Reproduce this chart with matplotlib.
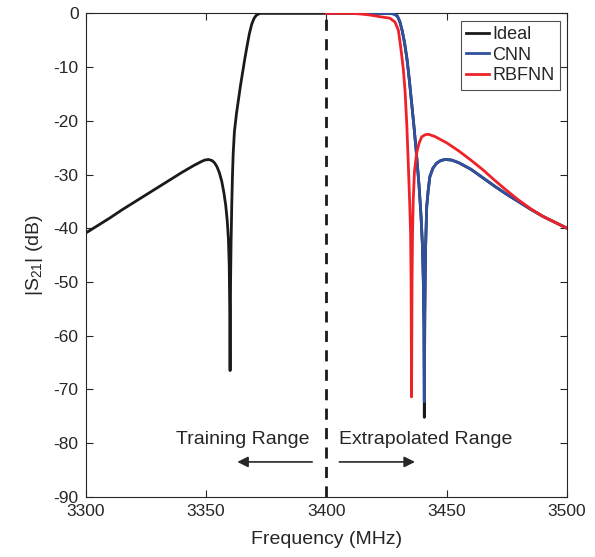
import matplotlib
matplotlib.use("Agg")
import matplotlib.pyplot as plt

# values (frequency in MHz, |S21| in dB)
ideal_f = [3300, 3305, 3310, 3315, 3320, 3325, 3330, 3335, 3340, 3345, 3348,
           3349.5, 3351, 3352.5, 3353.5, 3354.5, 3355.5, 3356.5, 3357.4,
           3358.2, 3358.8, 3359.3, 3359.65, 3359.85, 3360.0, 3360.2, 3360.4,
           3360.7, 3361.0, 3361.3, 3361.8, 3362.7, 3363.5, 3364.3, 3365.2,
           3366.1, 3367.0, 3368.0, 3369.0, 3370.0, 3371.0, 3372.4, 3400,
           3420, 3426, 3428, 3429.5, 3430.5, 3431.5, 3432.5, 3433.5, 3434.5,
           3435.5, 3436.5, 3437.5, 3438.5, 3439.3, 3439.9, 3440.3, 3440.55,
           3440.7, 3440.9, 3441.2, 3441.7, 3442.3, 3443.0, 3444.3, 3445.8,
           3447.5, 3449.3, 3452, 3455, 3460, 3465, 3470, 3475, 3480, 3485,
           3490, 3495, 3500]
ideal_db = [-40.9, -39.5, -38.1, -36.6, -35.2, -33.8, -32.4, -31.0, -29.6,
            -28.3, -27.6, -27.3, -27.2, -27.4, -27.8, -28.5, -29.6, -31.2,
            -33.3, -35.8, -38.5, -42.0, -47.0, -55.0, -66.5, -50.0, -43.0,
            -35.5, -30.0, -26.0, -22.0, -18.5, -16.0, -13.5, -11.0, -8.5,
            -6.2, -3.8, -2.0, -0.9, -0.3, 0.0, 0.0,
            0.0, 0.0, -0.1, -0.5, -1.5, -3.2, -5.5, -8.5, -12.5, -17.0,
            -21.5, -26.5, -32.0, -37.5, -43.0, -50.0, -58.0, -75.2, -56.0,
            -44.0, -36.0, -33.0, -30.4, -28.8, -27.9, -27.4, -27.2, -27.3,
            -27.8, -29.0, -30.6, -32.2, -33.7, -35.1, -36.5, -37.8, -38.9,
            -40.0]

cnn_f = [3400, 3420, 3426, 3428, 3429.5, 3430.5, 3431.5, 3432.5, 3433.5,
         3434.5, 3435.5, 3436.5, 3437.5, 3438.5, 3439.3, 3439.9, 3440.3,
         3440.55, 3440.7, 3440.9, 3441.2, 3441.7, 3442.3, 3443.0, 3444.3,
         3445.8, 3447.5, 3449.3, 3452, 3455, 3460, 3465, 3470, 3475, 3480,
         3485, 3490, 3495, 3500]
cnn_db = [0.0, 0.0, 0.0, -0.1, -0.5, -1.5, -3.2, -5.5, -8.5, -12.5, -17.0,
          -21.5, -26.5, -32.0, -37.5, -43.0, -50.0, -58.0, -72.3, -56.0,
          -44.0, -36.0, -33.0, -30.4, -28.8, -27.9, -27.4, -27.2, -27.3,
          -27.8, -29.0, -30.6, -32.2, -33.7, -35.1, -36.5, -37.8, -38.9,
          -40.0]

rbf_f = [3400, 3410, 3414, 3418, 3422, 3426.4, 3428.5, 3429.9, 3430.6,
         3431.3, 3432, 3432.7, 3433.4, 3434, 3434.6, 3435, 3435.2, 3435.4,
         3435.6, 3435.8, 3436.1, 3436.6, 3437.5, 3438.5, 3439.6, 3441,
         3442.3, 3445, 3450, 3455, 3460, 3465, 3470, 3475, 3480, 3485, 3490,
         3495, 3500]
rbf_db = [0.0, 0.0, -0.1, -0.3, -0.6, -0.9, -1.6, -3.1, -5.3, -7.8, -10.5,
          -14.5, -20.5, -27.5, -35.0, -41.0, -50.0, -71.4, -50.0, -41.0,
          -34.8, -29.5, -26.0, -24.2, -23.0, -22.6, -22.5, -22.9, -24.1,
          -25.6, -27.3, -29.1, -31.1, -33.0, -34.8, -36.4, -37.8, -38.9,
          -40.0]

series_names = ["Ideal", "CNN", "RBFNN"]
x_ticks = [3300, 3350, 3400, 3450, 3500]
y_ticks = list(range(-90, 1, 10))
split_f = 3400

TXT = "#262626"
plt.rcParams["font.family"] = ["Liberation Sans", "DejaVu Sans"]
plt.rcParams["mathtext.default"] = "regular"
plt.rcParams["axes.unicode_minus"] = False

fig = plt.figure(figsize=(5.95, 5.57), dpi=100)
ax = fig.add_axes([0.144, 0.108, 0.809, 0.868])

ax.plot(ideal_f, ideal_db, color="#1a1a1a", lw=2.0, label=series_names[0],
        zorder=2)
ax.plot(cnn_f, cnn_db, color="#3050a0", lw=2.0, label=series_names[1],
        zorder=3)
ax.plot(rbf_f, rbf_db, color="#ee2228", lw=2.0, label=series_names[2],
        zorder=4)
ax.axvline(split_f, color="#1a1a1a", lw=2.0, ls=(0, (4, 3)), zorder=5)

ax.text(3393.2, -80.1, "Training Range", ha="right", va="baseline",
        fontsize=14, color=TXT)
ax.text(3405.4, -80.1, "Extrapolated Range", ha="left", va="baseline",
        fontsize=14, color=TXT)
arrow = dict(arrowstyle="-|>", color=TXT, lw=1.2, mutation_scale=16,
             shrinkA=0, shrinkB=0)
ax.annotate("", xy=(3363.0, -83.5), xytext=(3394.1, -83.5), arrowprops=arrow)
ax.annotate("", xy=(3436.8, -83.5), xytext=(3405.4, -83.5), arrowprops=arrow)

ax.set_xlim(3300, 3500)
ax.set_ylim(-90, 0)
ax.set_xticks(x_ticks)
ax.set_yticks(y_ticks)
ax.tick_params(direction="in", top=True, right=True, length=5, width=0.8,
               labelsize=12.5, colors=TXT, pad=5)
for s in ax.spines.values():
    s.set_color(TXT)
    s.set_linewidth(0.8)

ax.set_xlabel("Frequency (MHz)", fontsize=14, color=TXT, labelpad=9)
ax.set_ylabel("|S$_{21}$| (dB)", fontsize=14, color=TXT, labelpad=6)

leg = ax.legend(loc="upper right", fontsize=13, frameon=True, fancybox=False,
                edgecolor=TXT, handlelength=1.3, handletextpad=0.15,
                labelspacing=0.2, borderpad=0.3, borderaxespad=0.4)
leg.get_frame().set_linewidth(0.8)
for t in leg.get_texts():
    t.set_color(TXT)

fig.savefig("out.png", dpi=100)
